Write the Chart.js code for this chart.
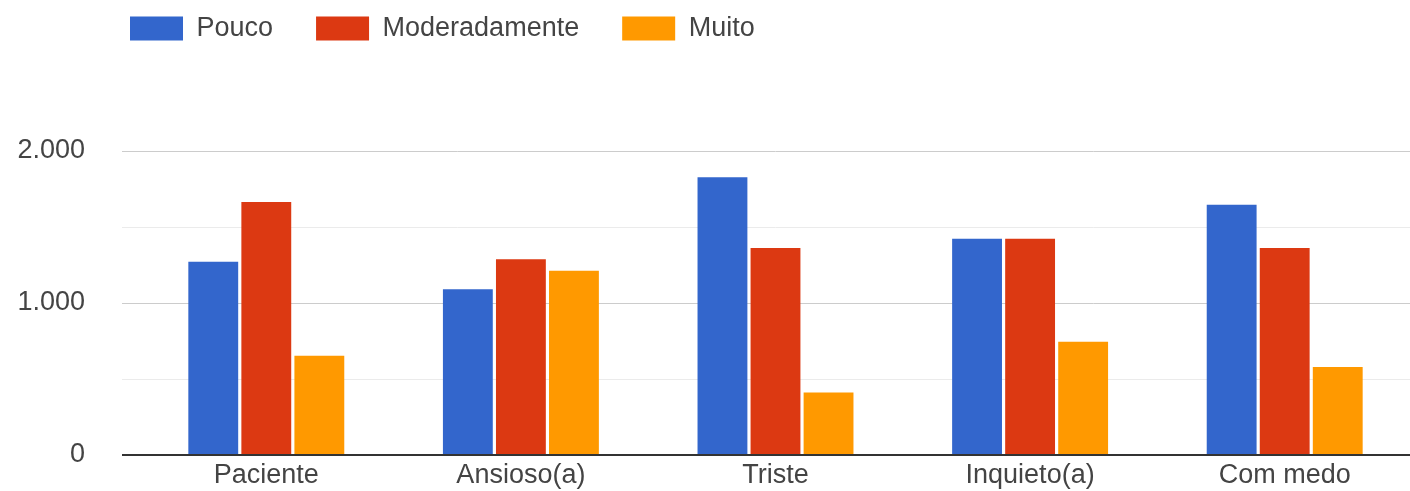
<!DOCTYPE html>
<html>
<head>
<meta charset="utf-8">
<script src="https://cdn.jsdelivr.net/npm/chart.js@4/dist/chart.umd.min.js"></script>
<style>
  html, body { margin: 0; padding: 0; background: #fff; overflow: hidden; }
  canvas { display: block; }
</style>
</head>
<body>
<canvas id="emotionChart" width="1412" height="491"></canvas>
<script>
const categories = ["Paciente", "Ansioso(a)", "Triste", "Inquieto(a)", "Com medo"];
const seriesNames = ["Pouco", "Moderadamente", "Muito"];
const pouco = [1272, 1090, 1827, 1423, 1647];
const moderadamente = [1664, 1288, 1362, 1423, 1362];
const muito = [653, 1212, 412, 745, 579];
const seriesColors = ["#3366cc", "#dc3912", "#ff9900"];
const labeledTicks = [0, 1000, 2000];

const font = { family: "'Liberation Sans', Arial, sans-serif", size: 27 };
const textColor = "#444";

// formats 1000 -> "1.000"
var formatTick = (v) => String(v).replace(/\B(?=(\d{3})+(?!\d))/g, ".");

var gridColor = (ctx) => {
    let v = ctx.tick.value;
    if (v === 0) return "#333";
    return v % 1000 === 0 ? "#cccccc" : "#ebebeb";
};

// legend sits up-left of where chart.js would put it, with a big gap below
const legendPlacer = {
    id: "legendPlacer",
    beforeInit(chart) {
        const fit = chart.legend.fit;
        chart.legend.fit = function() {
            fit.bind(chart.legend)();
            this.height = 151;
        };
    },
    afterLayout(chart) {
        chart.legend.left = 87;
        chart.legend.top = -28;
    }
};

const seriesValues = [pouco, moderadamente, muito];

new Chart(document.getElementById("emotionChart"), {
    type: "bar",
    data: {
        labels: categories,
        datasets: seriesNames.map((name, i) => ({
            label: name,
            data: seriesValues[i],
            backgroundColor: seriesColors[i],
            categoryPercentage: 0.625,
            barPercentage: 0.94
        }))
    },
    options: {
        responsive: false,
        animation: false,
        layout: { padding: 0 },
        plugins: {
            legend: {
                position: "top",
                align: "start",
                labels: {
                    boxWidth: 53,
                    boxHeight: 24,
                    padding: 43,
                    color: textColor,
                    font: font
                }
            },
            tooltip: { enabled: false }
        },
        scales: {
            x: {
                grid: { display: false, drawTicks: false },
                border: { display: false },
                ticks: { color: textColor, font: font, padding: 4 },
                afterFit: (scale) => { scale.height = 36; }
            },
            y: {
                min: 0,
                max: 2000,
                border: { display: false },
                grid: {
                    color: gridColor,
                    tickColor: gridColor,
                    lineWidth: (ctx) => ctx.tick.value === 0 ? 2 : 1,
                    tickLength: 17
                },
                ticks: {
                    stepSize: 500,
                    padding: 37,
                    color: textColor,
                    font: font,
                    callback: (v) => labeledTicks.includes(v) ? formatTick(v) : ""
                },
                afterFit: (scale) => {
                    scale.width = 139;
                    scale.paddingTop = 0;
                    scale.paddingBottom = 0;
                }
            }
        }
    },
    plugins: [legendPlacer]
});
</script>
</body>
</html>
